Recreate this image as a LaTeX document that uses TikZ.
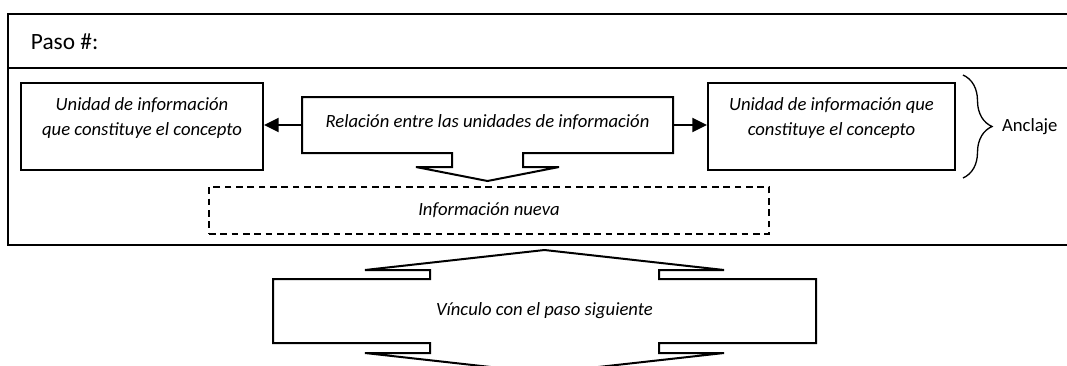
\documentclass[tikz,border=0pt]{standalone}
\usepackage{fontspec}
\setmainfont{Carlito}
\usetikzlibrary{arrows.meta, calc, positioning, decorations.pathreplacing}

\begin{document}
\begin{tikzpicture}[
    x=0.75pt, y=-0.75pt,
    line width=1.5pt,
    txt/.style={inner sep=0pt, align=center, font=\itshape\fontsize{14}{18.75}\selectfont},
    box/.style={draw, rectangle, inner sep=0pt},
    gestrichelt/.style={draw, dash pattern=on 5pt off 3.5pt},
    pfeil/.style={-{Triangle[length=11pt, width=10.5pt]}, line width=1.5pt}
]

% Bildausschnitt
\useasboundingbox (0,0) rectangle (1067,365);
\clip (0,0) rectangle (1067,365);

% Zeichne Tabellenrahmen
\draw (1080,14) -- (8,14) -- (8,245) -- (1080,245);
\draw[line width=1pt] (8,68) -- (1080,68);
\node[anchor=west, inner sep=0pt, font=\fontsize{17.5}{20}\selectfont] (paso) at (30,42) {Paso \#:};

% Zeichne Einheiten
\node[box, minimum width=181.5pt, minimum height=65.25pt] (lbox) at (142,126.5) {};
\node[txt, below=11pt of lbox.north] (ltext) {Unidad de información\\que constituye el concepto};
\node[box, minimum width=185.25pt, minimum height=65.25pt] (rbox) at (831.5,126.5) {};
\node[txt, below=11pt of rbox.north] (rtext) {Unidad de información que\\constituye el concepto};

% Zeichne Relation mit Pfeil nach unten
\node[txt, text depth=6pt, minimum width=276.75pt, minimum height=40.5pt] (rel) at (487.5,125) {Relación entre las unidades de información};
\draw (rel.north west) -- (rel.north east) -- (rel.south east)
  -- ($(rel.south)+(35.5,0)$) -- ++(0,14) -- ++(36,0)
  -- ($(rel.south)+(0,28)$)
  -- ($(rel.south)+(-71.5,14)$) -- ++(36,0) -- ++(0,-14)
  -- (rel.south west) -- cycle;

% Zeichne Pfeile zu den Einheiten
\draw[pfeil] (rel.west) -- (rel.west -| lbox.east);
\draw[pfeil] (rel.east) -- (rel.east -| rbox.west);

% Klammer
\draw[line width=1pt, decorate, decoration={brace, amplitude=21.75pt}] (963,75) -- (963,178);
\node[anchor=west, inner sep=0pt, font=\fontsize{14}{16}\selectfont] (anker) at (1001,127) {Anclaje};

% Neue Information
\node[txt, gestrichelt, minimum width=420pt, minimum height=35.25pt] (neu) at (489,210.5) {Información nueva};

% Zeichne Verbindung zum naechsten Schritt
\node[txt, minimum width=405.75pt, minimum height=46.5pt] (vinc) at (544.5,311) {Vínculo con el paso siguiente};
\draw (vinc.north west)
  -- ($(vinc.north)+(-114.5,0)$) -- ++(0,-9) -- ++(-65,0)
  -- ($(vinc.north)+(0,-29)$)
  -- ($(vinc.north)+(179.5,-9)$) -- ++(-65,0) -- ++(0,9)
  -- (vinc.north east) -- (vinc.south east)
  -- ($(vinc.south)+(114.5,0)$) -- ++(0,10) -- ++(65,0)
  -- ($(vinc.south)+(0,30)$)
  -- ($(vinc.south)+(-179.5,10)$) -- ++(65,0) -- ++(0,-10)
  -- (vinc.south west) -- cycle;

\end{tikzpicture}
\end{document}
